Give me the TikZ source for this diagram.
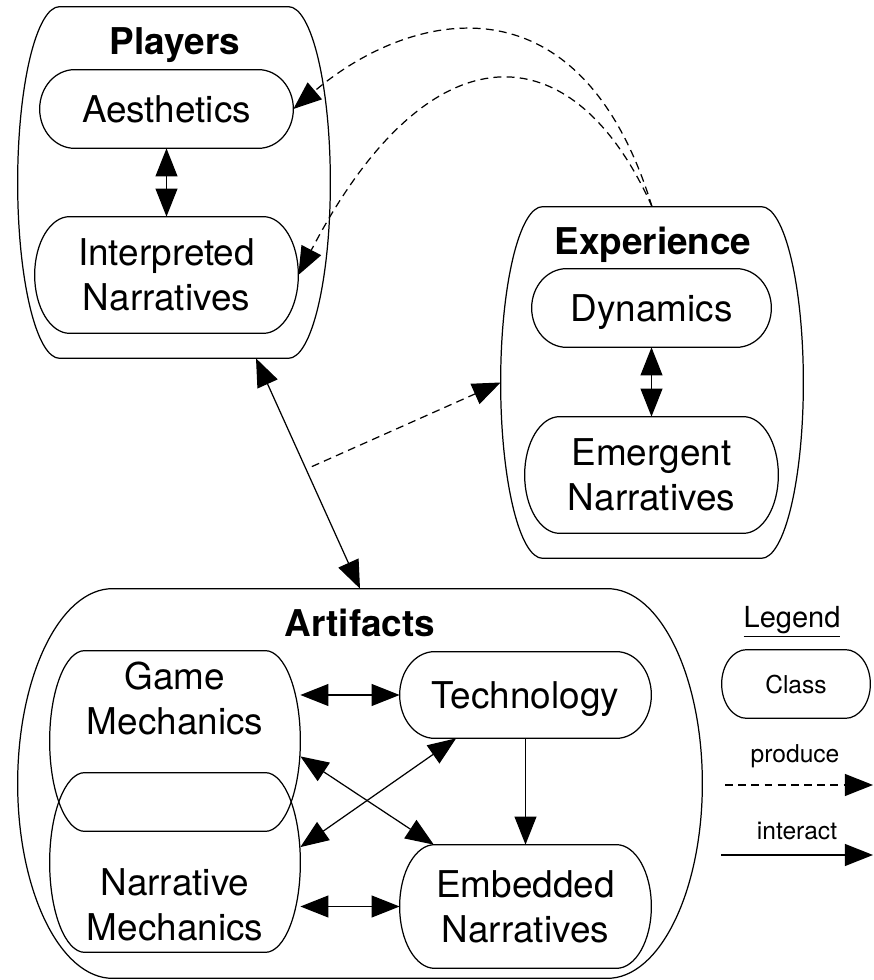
\documentclass[tikz,border=0pt]{standalone}
\usepackage{fontspec}
\setmainfont{TeX Gyre Heros}
\usetikzlibrary{arrows.meta,calc}

% contour d'une classe : bords droits en haut et en bas, cotes en demi-ellipse
\newcommand{\capsule}[2]{%
  \draw[trait] let \p1=(#1.north west), \p2=(#1.south east), \n1={(\y1-\y2)/2} in
    ([xshift=#2]\x1,\y1) -- ([xshift=-#2]\x2,\y1)
    arc[start angle=90, end angle=-90, x radius=#2, y radius=\n1]
    -- ([xshift=#2]\x1,\y2)
    arc[start angle=270, end angle=90, x radius=#2, y radius=\n1] -- cycle;}

\begin{document}
\begin{tikzpicture}[
    >={Triangle[length=16pt,width=12.5pt]},
    trait/.style={line width=0.7pt},
    boite/.style={draw=none, inner sep=0pt, align=center, text depth=0pt,
                  font=\fontsize{21}{25.6}\selectfont},
    titre/.style={anchor=base, font=\fontsize{21}{25.6}\selectfont\bfseries},
    texte/.style={align=center, inner sep=0pt, text depth=0pt,
                  font=\fontsize{21}{25.6}\selectfont},
    interact/.style={trait, ->},
    produce/.style={trait, dash pattern=on 4.5pt off 3pt, ->}
]
    \useasboundingbox (0,0) rectangle (17.46,19.6);

    % Players
    \node[boite, minimum width=6.24cm, minimum height=7.02cm] (players) at (3.48,15.95) {};
    \node[titre] (playerslbl) at (3.5,18.5) {Players};
    \node[boite, minimum width=5.06cm, minimum height=1.56cm] (aesth) at (3.33,17.42) {Aesthetics};
    \node[boite, minimum width=5.26cm, minimum height=2.32cm] (interp) at (3.33,14.1) {Interpreted\\Narratives};

    % Experience
    \node[boite, minimum width=6.04cm, minimum height=7.02cm] (experience) at (13.04,11.95) {};
    \node[titre] (experiencelbl) at (13.06,14.5) {Experience};
    \node[boite, minimum width=4.78cm, minimum height=1.56cm] (dyn) at (13.03,13.44) {Dynamics};
    \node[boite, minimum width=5.06cm, minimum height=2.32cm] (emerg) at (13.03,10.1) {Emergent\\Narratives};

    % Artifacts
    \node[boite, minimum width=13.68cm, minimum height=7.78cm] (artifacts) at (7.2,3.93) {};
    \node[titre] (artifactslbl) at (7.2,6.86) {Artifacts};
    \node[boite, minimum width=5cm, minimum height=3.6cm] (game) at (3.5,4.78) {};
    \node[boite, minimum width=5cm, minimum height=3.58cm] (narr) at (3.5,2.35) {};
    \node[texte] (gametxt) at (3.5,5.64) {Game\\Mechanics};
    \node[texte] (narrtxt) at (3.5,1.51) {Narrative\\Mechanics};
    \node[boite, minimum width=5.02cm, minimum height=1.72cm] (tech) at (10.51,5.7) {Technology};
    \node[boite, minimum width=5.02cm, minimum height=2.46cm] (emb) at (10.51,1.47) {Embedded\\Narratives};

    % Legende
    \node[anchor=base, font=\fontsize{16.5}{20}\selectfont] (legend) at (15.84,7.04) {\underline{Legend}};
    \node[boite, minimum width=2.96cm, minimum height=1.36cm, font=\fontsize{14}{17}\selectfont] (class) at (15.92,5.92) {Class};
    \node[anchor=base, font=\fontsize{14}{17}\selectfont] (producelbl) at (15.9,4.34) {produce};
    \node[anchor=base, font=\fontsize{14}{17}\selectfont] (interactlbl) at (15.94,2.8) {interact};
    \coordinate (prodA) at (14.5,3.9);
    \coordinate (prodB) at (17.46,3.9);
    \coordinate (interA) at (14.42,2.5);
    \coordinate (interB) at (17.46,2.5);

    % Contours des classes
    \capsule{players}{0.84cm}
    \capsule{aesth}{0.7cm}
    \capsule{interp}{0.7cm}
    \capsule{experience}{0.84cm}
    \capsule{dyn}{0.7cm}
    \capsule{emerg}{0.7cm}
    \capsule{artifacts}{1.9cm}
    \capsule{game}{0.7cm}
    \capsule{narr}{0.7cm}
    \capsule{tech}{0.7cm}
    \capsule{emb}{0.7cm}
    \capsule{class}{0.5cm}

    % Interactions
    \draw[interact, <->] (aesth) -- (interp);
    \draw[interact, <->] (dyn) -- (emerg);
    \draw[interact, <->] (players.-65) -- coordinate[pos=0.47] (linkmid) (artifacts.north);
    \draw[interact, <->] (game.east |- tech.west) -- (tech.west);
    \draw[interact, <->] (narr.east |- emb.west) -- (emb.west);
    \draw[interact] (tech.south) -- (emb.north);
    \draw[interact, <->] (game.-7.7) -- (emb.146.7);
    \draw[interact, <->] (tech.212.5) -- (narr.7);

    % Productions
    \draw[produce] (experience.north) .. controls (11.6,20.18) and (8.22,19.41) .. (aesth.east);
    \draw[produce] (experience.north) .. controls (11.46,19.0) and (8.59,19.13) .. (interp.east);
    \draw[produce] ([xshift=0.14cm]linkmid) -- (experience.west);

    % Fleches de la legende
    \draw[produce] (prodA) -- (prodB);
    \draw[interact] (interA) -- (interB);

\end{tikzpicture}
\end{document}
